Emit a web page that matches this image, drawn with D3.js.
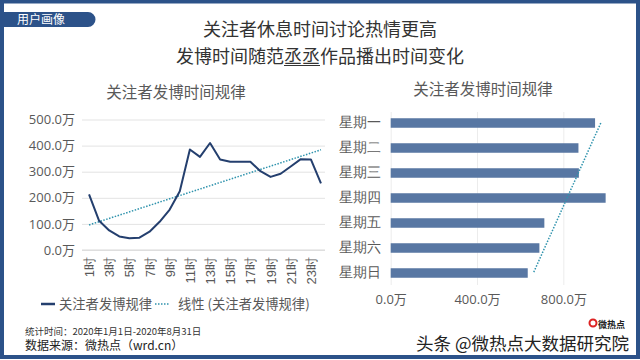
<!DOCTYPE html>
<html><head><meta charset="utf-8">
<script src="https://cdn.jsdelivr.net/npm/d3@7"></script>
<style>
html,body{margin:0;padding:0;background:#fff;}
svg{display:block;font-family:"Noto Sans CJK SC","Noto Sans",sans-serif;}
</style></head>
<body>
<svg id="chart" width="640" height="360"></svg>
<script>
// ---- data ----
const hours = ["1时","2时","3时","4时","5时","6时","7时","8时","9时","10时","11时","12时","13时","14时","15时","16时","17时","18时","19时","20时","21时","22时","23时","24时"];
const hourValues = [213,112,75,52,45,47,70,108,155,225,385,357,410,347,338,338,338,302,280,292,320,348,347,255];
const lineTicks = [0,100,200,300,400,500];
const days = ["星期一","星期二","星期三","星期四","星期五","星期六","星期日"];
const dayValues = [947,870,872,996,712,689,635];
const barTicks = [0,400,800];
const mainTitle1 = "关注者休息时间讨论热情更高";
const mainTitle2a = "发博时间随范";
const mainTitle2b = "丞丞";
const mainTitle2c = "作品播出时间变化";
const subTitle = "关注者发博时间规律";
const legendLabels = ["关注者发博规律","线性 (关注者发博规律)"];
const footer1 = "统计时间：2020年1月1日-2020年8月31日";
const footer2 = "数据来源：微热点（wrd.cn）";
const watermark = "头条 @微热点大数据研究院";

const svg = d3.select("#chart");
const frame = "#2c5289";
const lineColor = "#243f6e";
const trendColor = "#2f93ad";
const barColor = "#5877a3";
const gridColor = "#e3e3e3";
const textColor = "#595959";

// frame
svg.append("rect").attr("x",2).attr("y",1.5).attr("width",636).attr("height",355.5)
  .attr("fill","#fff").attr("stroke",frame).attr("stroke-width",4);

// tab
svg.append("path").attr("d","M4,12 H88 A7.5,7.5 0 0 1 88,27 H4 Z").attr("fill",frame);
svg.append("text").attr("x",17).attr("y",23.5).attr("fill","#fff").attr("font-size",12).text("用户画像");

// main titles
svg.append("text").attr("x",320).attr("y",36).attr("text-anchor","middle").attr("font-size",18).attr("fill","#333").text(mainTitle1);
const t2 = svg.append("text").attr("x",320).attr("y",63).attr("text-anchor","middle").attr("font-size",18).attr("fill","#333");
t2.append("tspan").text(mainTitle2a);
t2.append("tspan").text(mainTitle2b);
t2.append("tspan").text(mainTitle2c);
{
  const n = t2.node();
  const s = mainTitle2a.length;
  const x0 = n.getStartPositionOfChar(s).x;
  const x1 = n.getEndPositionOfChar(s + mainTitle2b.length - 1).x;
  svg.append("line").attr("x1",x0).attr("x2",x1).attr("y1",65.5).attr("y2",65.5)
    .attr("stroke","#333").attr("stroke-width",1);
}

// regression helper
function linreg(ys){
  const xs = ys.map((_,i)=>i+1);
  const mx = d3.mean(xs), my = d3.mean(ys);
  const sxy = d3.sum(xs,(x,i)=>(x-mx)*(ys[i]-my));
  const sxx = d3.sum(xs,x=>(x-mx)*(x-mx));
  const b = sxy/sxx, a = my - b*mx;
  return x => a + b*x;
}

// ---------- line chart ----------
svg.append("text").attr("x",176).attr("y",98).attr("text-anchor","middle").attr("font-size",15.5).attr("fill",textColor).text(subTitle);
const lx = d3.scalePoint().domain(hours).range([84,326]).padding(0.5);
const ly = d3.scaleLinear().domain([0,500]).range([250,119.5]);
const gL = svg.append("g");
gL.append("g").attr("transform","translate(82,0)")
  .call(d3.axisLeft(ly).tickValues(lineTicks).tickSize(-243).tickFormat(d=>d3.format(".1f")(d)+"万"))
  .call(g=>g.select(".domain").remove())
  .call(g=>g.selectAll("line").attr("stroke",gridColor))
  .call(g=>g.selectAll("text").attr("fill",textColor).attr("font-size",13).attr("x",-7).style("font-family","'Open Sans','Noto Sans CJK SC',sans-serif"));
gL.append("g").attr("transform","translate(0,250)")
  .call(d3.axisBottom(lx).tickValues(hours.filter((d,i)=>i%2===0)).tickSize(0))
  .call(g=>g.select(".domain").attr("stroke","#d9d9d9").attr("d","M82,0H325"))
  .call(g=>g.selectAll("text").attr("fill",textColor).attr("font-size",13)
     .attr("transform","rotate(-90)").attr("text-anchor","end").attr("dy","0.35em").attr("x",-7).attr("y",0));
const trendL = linreg(hourValues);
gL.append("line").attr("x1",lx(hours[0])).attr("y1",ly(trendL(1)))
  .attr("x2",lx(hours[hours.length-1])).attr("y2",ly(trendL(hours.length)))
  .attr("stroke",trendColor).attr("stroke-width",1.5).attr("stroke-dasharray","1.5,1.5");
gL.append("path").datum(hourValues)
  .attr("d",d3.line().x((d,i)=>lx(hours[i])).y(d=>ly(d)))
  .attr("fill","none").attr("stroke",lineColor).attr("stroke-width",2).attr("stroke-linejoin","round");

// legend
svg.append("line").attr("x1",41).attr("x2",55).attr("y1",304).attr("y2",304).attr("stroke",lineColor).attr("stroke-width",2.5);
svg.append("text").attr("x",59).attr("y",309).attr("font-size",13.3).attr("fill",textColor).text(legendLabels[0]);
svg.append("line").attr("x1",155).attr("x2",170).attr("y1",304).attr("y2",304).attr("stroke",trendColor).attr("stroke-width",1.5).attr("stroke-dasharray","1.5,1.5");
svg.append("text").attr("x",178).attr("y",309).attr("font-size",13.3).attr("fill",textColor).text(legendLabels[1]);

// footer
svg.append("text").attr("x",25).attr("y",334.5).attr("font-size",9.5).attr("fill","#333").text(footer1);
svg.append("text").attr("x",25).attr("y",350).attr("font-size",12).attr("fill","#222").text(footer2);

// ---------- bar chart ----------
svg.append("text").attr("x",483).attr("y",95).attr("text-anchor","middle").attr("font-size",15.5).attr("fill",textColor).text(subTitle);
const bx = d3.scaleLinear().domain([0,1000]).range([390.7,606.5]);
const by = d3.scaleBand().domain(days).range([110.5,285.5]).paddingInner(0.62).paddingOuter(0.31);
const gB = svg.append("g");
gB.append("g").attr("transform","translate(0,285)")
  .call(d3.axisBottom(bx).tickValues(barTicks).tickSize(-173).tickFormat(d=>d3.format(".1f")(d)+"万"))
  .call(g=>g.select(".domain").remove())
  .call(g=>g.selectAll("line").attr("stroke","#ececec"))
  .call(g=>g.selectAll("text").attr("fill",textColor).attr("font-size",13).attr("y",10).style("font-family","'Open Sans','Noto Sans CJK SC',sans-serif"));
gB.append("g").attr("transform","translate(390.7,0)")
  .call(d3.axisLeft(by).tickSize(0).tickPadding(10))
  .call(g=>g.select(".domain").remove())
  .call(g=>g.selectAll("text").attr("fill",textColor).attr("font-size",13.5));
gB.selectAll("rect.bar").data(dayValues).join("rect").attr("class","bar")
  .attr("x",bx(0)).attr("y",(d,i)=>by(days[i])).attr("height",by.bandwidth())
  .attr("width",d=>bx(d)-bx(0)).attr("fill",barColor);
const trendB = linreg(dayValues);
gB.append("line")
  .attr("x1",bx(trendB(1))).attr("y1",by(days[0])+by.bandwidth()/2)
  .attr("x2",bx(trendB(days.length))).attr("y2",by(days[days.length-1])+by.bandwidth()/2)
  .attr("stroke",trendColor).attr("stroke-width",1.5).attr("stroke-dasharray","1.5,1.5");

// watermark
const wm = svg.append("g");
wm.append("circle").attr("cx",593).attr("cy",323).attr("r",3.5).attr("fill","none").attr("stroke","#d22").attr("stroke-width",2);
wm.append("text").attr("x",598).attr("y",328).attr("font-size",9).attr("font-weight","bold").attr("fill","#222").text("微热点");
wm.append("text").attr("x",629).attr("y",350).attr("text-anchor","end").attr("font-size",17.5)
  .attr("fill","#222").attr("stroke","#fff").attr("stroke-width",2.5).attr("paint-order","stroke").text(watermark);
</script>
</body></html>
